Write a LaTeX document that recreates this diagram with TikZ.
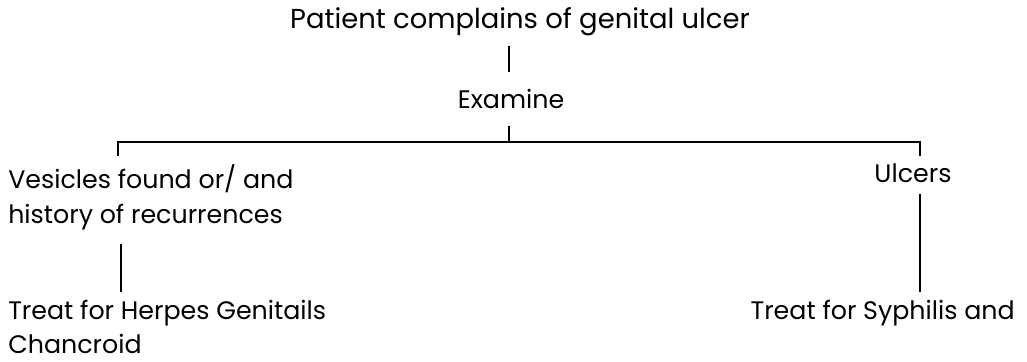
\documentclass[tikz,border=0pt]{standalone}
\usepackage{fontspec}
\setmainfont{Poppins}
\usetikzlibrary{positioning}
\tikzstyle{txt}=[inner sep=0pt,font=\fontsize{18}{25}\selectfont]
\tikzstyle{ln}=[line width=1.5pt]

\begin{document}
\begin{tikzpicture}[x=0.025cm,y=-0.025cm]
	\useasboundingbox (0,0) rectangle (1027,362);
	\node[txt,font=\fontsize{19.5}{25}\selectfont] (top) at (520,22) {Patient complains of genital ulcer};
	\node[txt] (exam) at (511,99) {Examine};
	\node[txt,anchor=north west,align=left] (ves) at (8,164) {Vesicles found or/ and\\history of recurrences};
	\node[txt] (ulc) at (913,173) {Ulcers};
	\node[txt,anchor=north west,align=left,font=\fontsize{18}{24}\selectfont] (herp) at (8,300) {Treat for Herpes Genitails\\Chancroid};
	\node[txt,anchor=north east] (syph) at (1015,300) {Treat for Syphilis and};
	\coordinate (split) at (509,142);
	\coordinate (lft) at (118,142);
	\coordinate (rgt) at (920,142);
	\coordinate (lft2) at (121,142);

	\draw[ln,shorten <=7pt,shorten >=12pt] (top.south -| split) -- (exam.north -| split);
	\draw[ln,shorten <=12pt] (exam.south -| split) -- (split);
	\draw[ln,shorten >=6pt] (split) -| (ves.north -| lft);
	\draw[ln,shorten >=5pt] (split) -| (ulc.north -| rgt);
	\draw[ln,shorten <=8pt,shorten >=6pt] (ulc.south -| rgt) -- (syph.north -| rgt);
	\draw[ln,shorten <=10pt,shorten >=6pt] (ves.south -| lft2) -- (herp.north -| lft2);
\end{tikzpicture}
\end{document}
